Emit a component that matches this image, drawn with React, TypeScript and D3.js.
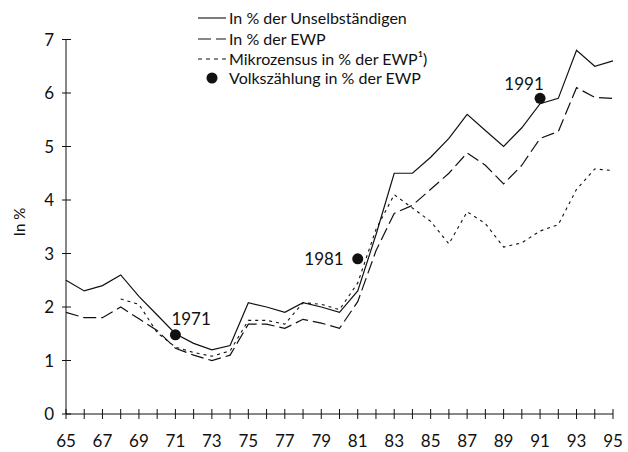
import React from "react";
import * as d3 from "d3";

const years = [65,66,67,68,69,70,71,72,73,74,75,76,77,78,79,80,81,82,83,84,85,86,87,88,89,90,91,92,93,94,95];
const unselbstaendige = [2.5,2.3,2.4,2.6,2.2,1.85,1.5,1.32,1.2,1.28,2.08,2.0,1.9,2.08,2.0,1.9,2.3,3.35,4.5,4.5,4.8,5.15,5.6,5.3,5.0,5.35,5.8,5.9,6.8,6.5,6.6];
const ewp = [1.9,1.8,1.8,2.0,1.78,1.56,1.23,1.1,1.0,1.1,1.68,1.68,1.6,1.77,1.7,1.6,2.1,3.05,3.75,3.9,4.2,4.5,4.88,4.65,4.3,4.65,5.15,5.28,6.1,5.92,5.9];
const mikroYears = [68,69,70,71,72,73,74,75,76,77,78,79,80,81,82,83,84,85,86,87,88,89,90,91,92,93,94,95];
const mikrozensus = [2.15,2.05,1.52,1.25,1.15,1.08,1.18,1.75,1.75,1.68,2.08,2.05,1.95,2.45,3.45,4.1,3.85,3.6,3.18,3.78,3.56,3.12,3.2,3.42,3.54,4.2,4.58,4.55];
const censusYears = [71, 81, 91];
const censusValues = [1.48, 2.9, 5.9];
const censusLabels = ["1971", "1981", "1991"];
const yTicks = [0,1,2,3,4,5,6,7];
const xTickLabels = [65,67,69,71,73,75,77,79,81,83,85,87,89,91,93,95];
const legendLabels = ["In % der Unselbständigen", "In % der EWP", "Mikrozensus in % der EWP¹)", "Volkszählung in % der EWP"];

const FONT = "Lato, 'Open Sans', sans-serif";
const INK = "#111";

export default function App() {
  const x = d3.scaleLinear().domain([65, 95]).range([66, 613]);
  const y = d3.scaleLinear().domain([0, 7]).range([414, 39.5]);
  const line = d3.line<[number, number]>().x(d => x(d[0])).y(d => y(d[1]));

  const sUnselb = line(years.map((yr, i) => [yr, unselbstaendige[i]]));
  const sEwp = line(years.map((yr, i) => [yr, ewp[i]]));
  const sMikro = line(mikroYears.map((yr, i) => [yr, mikrozensus[i]]));

  const labelPos = [
    { dx: -4, dy: -10, anchor: "start" },
    { dx: -14, dy: 6, anchor: "end" },
    { dx: -16, dy: -8, anchor: "middle" },
  ];

  const legendY = [18, 39, 59, 78];

  return (
    <svg width={628} height={452} style={{ position: "absolute", left: 0, top: 0, background: "#fff" }}
      fontFamily={FONT}>
      {/* axes */}
      <line x1={x(65)} x2={x(65)} y1={y(0)} y2={y(7)} stroke={INK} strokeWidth={1} />
      <line x1={x(65)} x2={x(95)} y1={y(0)} y2={y(0)} stroke={INK} strokeWidth={1} />
      {yTicks.map(t => (
        <g key={"yt" + t}>
          <line x1={x(65) - 4} x2={x(65) + 5} y1={y(t)} y2={y(t)} stroke={INK} strokeWidth={1} />
          <text x={54} y={y(t) + 6} textAnchor="end" fontSize={17} fill={INK}>{t}</text>
        </g>
      ))}
      {years.map(t => (
        <line key={"xt" + t} x1={x(t)} x2={x(t)} y1={y(0) - 5} y2={y(0) + 5} stroke={INK} strokeWidth={1} />
      ))}
      {xTickLabels.map(t => (
        <text key={"xl" + t} x={x(t)} y={447} textAnchor="middle" fontSize={17} fill={INK}>{t}</text>
      ))}
      <text transform="translate(25,222) rotate(-90)" textAnchor="middle" fontSize={15} fill={INK}>In %</text>

      {/* series */}
      <path d={sUnselb || ""} fill="none" stroke={INK} strokeWidth={1.2} />
      <path d={sEwp || ""} fill="none" stroke={INK} strokeWidth={1.2} strokeDasharray="13,5" />
      <path d={sMikro || ""} fill="none" stroke={INK} strokeWidth={1.1} strokeDasharray="3,4" />

      {/* census */}
      {censusYears.map((yr, i) => (
        <g key={"c" + yr}>
          <circle cx={x(yr)} cy={y(censusValues[i])} r={5.5} fill={INK} />
          <text x={x(yr) + labelPos[i].dx} y={y(censusValues[i]) + labelPos[i].dy}
            textAnchor={labelPos[i].anchor} fontSize={17} fill={INK}>{censusLabels[i]}</text>
        </g>
      ))}

      {/* legend */}
      <line x1={198} x2={226} y1={legendY[0]} y2={legendY[0]} stroke={INK} strokeWidth={1.1} />
      <line x1={198} x2={226} y1={legendY[1]} y2={legendY[1]} stroke={INK} strokeWidth={1.1} strokeDasharray="13,5" />
      <line x1={198} x2={226} y1={legendY[2]} y2={legendY[2]} stroke={INK} strokeWidth={1.1} strokeDasharray="4,4" />
      <circle cx={212} cy={legendY[3]} r={5.5} fill={INK} />
      {legendLabels.map((l, i) => (
        <text key={"lg" + i} x={229} y={legendY[i] + 5.5} fontSize={16} fill={INK}>{l}</text>
      ))}
    </svg>
  );
}
